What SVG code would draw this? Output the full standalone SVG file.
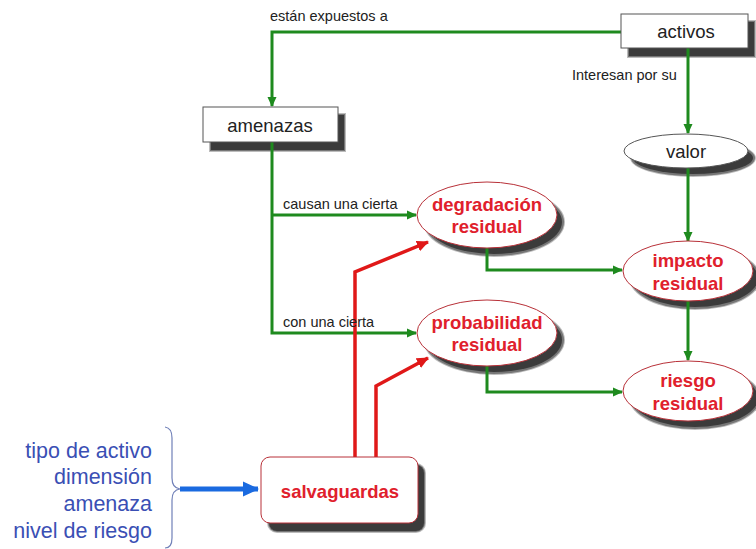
<svg xmlns="http://www.w3.org/2000/svg" width="756" height="549" viewBox="0 0 756 549">
<style>
.lbl{font-family:"Liberation Sans",Arial,sans-serif;font-size:14.5px;fill:#222}
.nt{font-family:"Liberation Sans",Arial,sans-serif;font-size:18.5px;fill:#222;text-anchor:middle}
.rt{font-family:"Liberation Sans",Arial,sans-serif;font-size:18.5px;font-weight:bold;fill:#e0202c;text-anchor:middle}
.bt{font-family:"Liberation Sans",Arial,sans-serif;font-size:21.5px;fill:#3a4fb4;text-anchor:end}
.box{fill:#fff;stroke:#555;stroke-width:1}
.rel{fill:#fff;stroke:#b83038;stroke-width:1}
.s1{fill:#222;fill-opacity:0.3}
.s2{fill:#222;fill-opacity:0.45}
.s3{fill:#222;fill-opacity:0.7}
.g{fill:none;stroke:#1e8a1e;stroke-width:3;marker-end:url(#ga)}
.r{fill:none;stroke:#e01818;stroke-width:3.5;marker-end:url(#ra)}
</style>
<defs>
<marker id="ga" markerUnits="userSpaceOnUse" markerWidth="10" markerHeight="10" refX="9" refY="5" orient="auto">
<path d="M0,0.5 L10,5 L0,9.5 Z" fill="#1e8a1e"/>
</marker>
<marker id="ra" markerUnits="userSpaceOnUse" markerWidth="12" markerHeight="12" refX="11" refY="6" orient="auto">
<path d="M0,0.5 L12,6 L0,11.5 Z" fill="#e01818"/>
</marker>
<marker id="ba" markerUnits="userSpaceOnUse" markerWidth="16" markerHeight="16" refX="15" refY="8" orient="auto">
<path d="M0,0.5 L16,8 L0,15.5 Z" fill="#1a6ae0"/>
</marker>
</defs>

<g id="shadows">
<rect class="s1" x="627" y="20" width="129" height="38"/>
<rect class="s2" x="628" y="21" width="127" height="36"/>
<rect class="s3" x="629" y="22" width="125" height="34"/>

<rect class="s1" x="209" y="113" width="137" height="39"/>
<rect class="s2" x="210" y="114" width="135" height="37"/>
<rect class="s3" x="211" y="115" width="133" height="35"/>

<ellipse class="s1" cx="693" cy="158" rx="63" ry="19"/>
<ellipse class="s2" cx="693" cy="158" rx="62" ry="18"/>
<ellipse class="s3" cx="693" cy="158" rx="60" ry="16"/>

<ellipse class="s1" cx="494" cy="222" rx="71" ry="35"/>
<ellipse class="s2" cx="494" cy="222" rx="70" ry="34"/>
<ellipse class="s3" cx="494" cy="222" rx="68" ry="32"/>

<ellipse class="s1" cx="494" cy="340" rx="71" ry="35"/>
<ellipse class="s2" cx="494" cy="340" rx="70" ry="34"/>
<ellipse class="s3" cx="494" cy="340" rx="68" ry="32"/>

<ellipse class="s1" cx="695" cy="278" rx="66" ry="32"/>
<ellipse class="s2" cx="695" cy="278" rx="65" ry="31"/>
<ellipse class="s3" cx="695" cy="278" rx="63" ry="29"/>

<ellipse class="s1" cx="695" cy="398" rx="66" ry="32"/>
<ellipse class="s2" cx="695" cy="398" rx="65" ry="31"/>
<ellipse class="s3" cx="695" cy="398" rx="63" ry="29"/>

<rect class="s1" x="267" y="463" width="159" height="70" rx="10"/>
<rect class="s2" x="268" y="464" width="157" height="68" rx="9"/>
<rect class="s3" x="269" y="465" width="155" height="66" rx="8"/>
</g>

<g id="connectors">
<path class="g" d="M621,32 H272 V106"/>
<path class="g" d="M688,48 V133"/>
<path class="g" d="M688,168 V241"/>
<path class="g" d="M688,301 V360"/>
<path class="g" d="M272,142 V333 H416"/>
<path class="g" d="M272,215 H416"/>
<path class="g" d="M487,248 V270 H622"/>
<path class="g" d="M487,366 V392 H622"/>
<path class="r" d="M355,457 V272 L428,242"/>
<path class="r" d="M376,457 V386 L428,358"/>
<path d="M180,489 H258" fill="none" stroke="#1a6ae0" stroke-width="5" marker-end="url(#ba)"/>
<path d="M165,427 Q172,428 172,438 V478 Q172,488 180,489 Q172,490 172,500 V538 Q172,548 165,548" fill="none" stroke="#7080b8" stroke-width="1.2"/>
</g>

<g id="labels">
<text class="lbl" x="270" y="21">están expuestos a</text>
<text class="lbl" x="572" y="80">Interesan por su</text>
<text class="lbl" x="283" y="209">causan una cierta</text>
<text class="lbl" x="283" y="327">con una cierta</text>
</g>

<g id="activos">
<rect class="box" x="621" y="14" width="127" height="34"/>
<text class="nt" x="686" y="38">activos</text>
</g>
<g id="amenazas">
<rect class="box" x="203" y="107" width="135" height="35"/>
<text class="nt" x="270" y="132">amenazas</text>
</g>
<g id="valor">
<ellipse class="box" cx="686" cy="151" rx="62" ry="17"/>
<text class="nt" x="686" y="158">valor</text>
</g>
<g id="degradacion">
<ellipse class="rel" cx="487" cy="215" rx="70" ry="33"/>
<text class="rt" x="487" y="211">degradación</text>
<text class="rt" x="487" y="233">residual</text>
</g>
<g id="probabilidad">
<ellipse class="rel" cx="487" cy="333" rx="70" ry="33"/>
<text class="rt" x="487" y="329">probabilidad</text>
<text class="rt" x="487" y="351">residual</text>
</g>
<g id="impacto">
<ellipse class="rel" cx="688" cy="271" rx="65" ry="30"/>
<text class="rt" x="688" y="267">impacto</text>
<text class="rt" x="688" y="290">residual</text>
</g>
<g id="riesgo">
<ellipse class="rel" cx="688" cy="391" rx="65" ry="30"/>
<text class="rt" x="688" y="387">riesgo</text>
<text class="rt" x="688" y="410">residual</text>
</g>
<g id="salvaguardas">
<rect class="rel" x="261" y="457" width="157" height="66" rx="9"/>
<text class="rt" x="340" y="498">salvaguardas</text>
</g>
<g id="criterios">
<text class="bt" x="152" y="458">tipo de activo</text>
<text class="bt" x="152" y="484">dimensión</text>
<text class="bt" x="152" y="511">amenaza</text>
<text class="bt" x="152" y="538">nivel de riesgo</text>
</g>
</svg>
